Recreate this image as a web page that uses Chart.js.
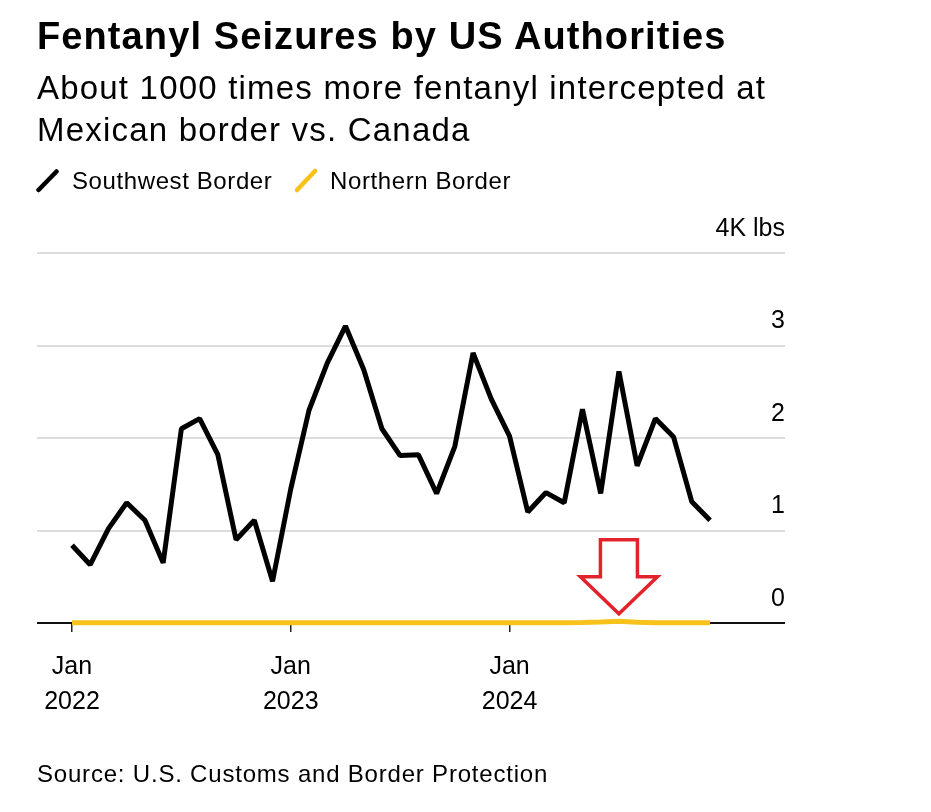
<!DOCTYPE html>
<html>
<head>
<meta charset="utf-8">
<script src="https://cdn.jsdelivr.net/npm/chart.js@4.4.1/dist/chart.umd.min.js"></script>
<style>
  html, body { margin: 0; padding: 0; background: #fff; }
  body { width: 931px; height: 812px; position: relative; overflow: hidden; font-family: "Liberation Sans", Arial, Helvetica, sans-serif; color: #000; }
  #wrap { position: absolute; left: 0; top: 0; width: 931px; height: 812px; }
  .t { position: absolute; white-space: nowrap; }
  #title { left: 37px; top: 17px; font-size: 38px; line-height: 38px; font-weight: bold; letter-spacing: 1.1px; }
  #subtitle { left: 37px; top: 67px; font-size: 33px; line-height: 42px; letter-spacing: 1.2px; }
  .leg { top: 169px; font-size: 24px; line-height: 24px; letter-spacing: 0.6px; }
  #source { left: 37px; top: 762px; font-size: 24px; line-height: 24px; letter-spacing: 0.8px; }
  svg.icon { position: absolute; }
</style>
</head>
<body>
<div id="wrap"><canvas id="chart" width="931" height="812"></canvas></div>
<div class="t" id="title">Fentanyl Seizures by US Authorities</div>
<div class="t" id="subtitle">About 1000 times more fentanyl intercepted at<br>Mexican border vs. Canada</div>
<svg class="icon" style="left:36px;top:168px" width="24" height="25"><line x1="2.5" y1="22" x2="20.5" y2="3.5" stroke="#000" stroke-width="4.5" stroke-linecap="round"/></svg>
<div class="t leg" style="left:72px">Southwest Border</div>
<svg class="icon" style="left:295px;top:168px" width="24" height="25"><line x1="2" y1="22" x2="20" y2="3" stroke="#f7c21b" stroke-width="4.5" stroke-linecap="round"/></svg>
<div class="t leg" style="left:330px">Northern Border</div>
<div class="t" id="source">Source: U.S. Customs and Border Protection</div>
<script>
// ---- data (thousand lbs per month) ----
const months = [
  'Jan 2022','Feb 2022','Mar 2022','Apr 2022','May 2022','Jun 2022','Jul 2022','Aug 2022','Sep 2022','Oct 2022','Nov 2022','Dec 2022',
  'Jan 2023','Feb 2023','Mar 2023','Apr 2023','May 2023','Jun 2023','Jul 2023','Aug 2023','Sep 2023','Oct 2023','Nov 2023','Dec 2023',
  'Jan 2024','Feb 2024','Mar 2024','Apr 2024','May 2024','Jun 2024','Jul 2024','Aug 2024','Sep 2024','Oct 2024','Nov 2024','Dec 2024'
];
const southwestBorder = [
  0.84, 0.63, 1.02, 1.30, 1.11, 0.65, 2.10, 2.21, 1.82, 0.90, 1.11, 0.45,
  1.45, 2.30, 2.81, 3.21, 2.74, 2.10, 1.81, 1.82, 1.40, 1.91, 2.92, 2.42,
  2.02, 1.20, 1.41, 1.30, 2.31, 1.40, 2.72, 1.70, 2.21, 2.01, 1.31, 1.11
];
const northernBorder = [
  0.003, 0.002, 0.003, 0.004, 0.003, 0.002, 0.003, 0.004, 0.003, 0.002, 0.003, 0.002,
  0.002, 0.003, 0.002, 0.003, 0.002, 0.003, 0.002, 0.003, 0.002, 0.003, 0.002, 0.002,
  0.003, 0.002, 0.003, 0.004, 0.006, 0.010, 0.020, 0.008, 0.004, 0.003, 0.004, 0.003
];
const xTickMonths = ['Jan 2022', 'Jan 2023', 'Jan 2024'];
const xTickLabels = [['Jan', '2022'], ['Jan', '2023'], ['Jan', '2024']];
const yTickValues = [0, 1, 2, 3, 4];
const yTickLabels = ['0', '1', '2', '3', '4K lbs'];
const arrowMonth = 'Jul 2024';

const FONT = '"Liberation Sans", Arial, Helvetica, sans-serif';
const xTickValues = xTickMonths.map(m => months.indexOf(m));
const toPoints = arr => arr.map((v, i) => ({ x: i, y: v }));

const arrowPlugin = {
  id: 'arrow',
  afterDatasetsDraw(chart) {
    const { ctx, scales: { x, y } } = chart;
    const cx = x.getPixelForValue(months.indexOf(arrowMonth));
    const yTip = y.getPixelForValue(0.1);
    const yBase = y.getPixelForValue(0.5);
    const yTop = y.getPixelForValue(0.9);
    const sw = 18.5, hw = 38.5;
    ctx.save();
    ctx.strokeStyle = '#e3232b';
    ctx.lineWidth = 3.5;
    ctx.lineJoin = 'miter';
    ctx.beginPath();
    ctx.moveTo(cx - sw, yTop);
    ctx.lineTo(cx + sw, yTop);
    ctx.lineTo(cx + sw, yBase);
    ctx.lineTo(cx + hw, yBase);
    ctx.lineTo(cx, yTip);
    ctx.lineTo(cx - hw, yBase);
    ctx.lineTo(cx - sw, yBase);
    ctx.closePath();
    ctx.stroke();
    ctx.restore();
  }
};

new Chart(document.getElementById('chart'), {
  type: 'line',
  data: {
    datasets: [
      {
        label: 'Northern Border',
        data: toPoints(northernBorder),
        borderColor: '#f7c21b',
        borderWidth: 5,
        pointRadius: 0,
        tension: 0,
        borderJoinStyle: 'bevel',
        clip: false,
        order: 2
      },
      {
        label: 'Southwest Border',
        data: toPoints(southwestBorder),
        borderColor: '#000000',
        borderWidth: 5,
        pointRadius: 0,
        tension: 0,
        borderJoinStyle: 'bevel',
        clip: false,
        order: 1
      }
    ]
  },
  options: {
    responsive: false,
    animation: false,
    events: [],
    layout: { padding: { left: 37, right: 146, top: 253, bottom: 0 } },
    plugins: { legend: { display: false }, tooltip: { enabled: false }, title: { display: false } },
    scales: {
      x: {
        type: 'linear',
        min: -1.92,
        max: 39.11,
        afterFit(s) { s.height = 189; },
        afterBuildTicks(s) { s.ticks = xTickValues.map(v => ({ value: v })); },
        border: { display: false },
        grid: { drawOnChartArea: false, drawTicks: true, tickLength: 9, color: '#222', lineWidth: 1.5 },
        ticks: {
          autoSkip: false,
          maxRotation: 0,
          padding: 17.5,
          color: '#000',
          font: { family: FONT, size: 25, lineHeight: 1.4 },
          callback(v) { const i = xTickValues.indexOf(v); return i >= 0 ? xTickLabels[i] : ''; }
        }
      },
      y: {
        position: 'right',
        min: 0,
        max: 4,
        afterFit(s) { s.width = 0; },
        afterBuildTicks(s) { s.ticks = yTickValues.map(v => ({ value: v })); },
        border: { display: false },
        grid: {
          drawTicks: false,
          lineWidth: 2,
          color(c) { return c.tick && c.tick.value === 0 ? '#111' : '#dcdcdc'; }
        },
        ticks: {
          mirror: true,
          padding: 0,
          labelOffset: -24,
          color: '#000',
          font: { family: FONT, size: 25 },
          callback(v) { const i = yTickValues.indexOf(v); return i >= 0 ? yTickLabels[i] : ''; }
        }
      }
    }
  },
  plugins: [arrowPlugin]
});
</script>
</body>
</html>
